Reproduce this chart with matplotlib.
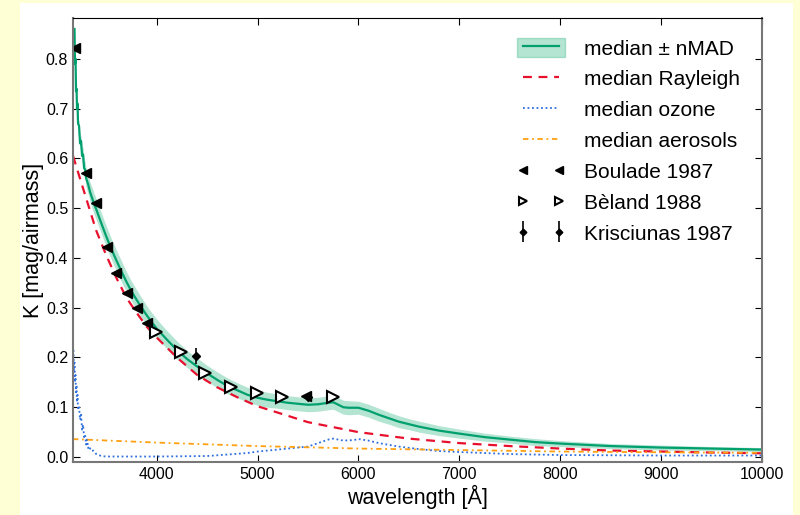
import matplotlib
matplotlib.use("Agg")
import matplotlib.pyplot as plt
from matplotlib.patches import Rectangle

plt.rcParams['font.family'] = ['Liberation Sans', 'DejaVu Sans']

# median extinction curve and its nMAD spread
median_wl = [3185, 3190, 3195, 3200, 3205, 3210, 3215, 3220, 3230, 3240,
             3250, 3260, 3270, 3280, 3290, 3300, 3320, 3340, 3360, 3380,
             3400, 3450, 3500, 3550, 3600, 3650, 3700, 3750, 3800, 3850,
             3900, 3950, 4000, 4100, 4200, 4300, 4400, 4500, 4600, 4700,
             4800, 4900, 5000, 5100, 5200, 5300, 5400, 5500, 5600, 5700,
             5750, 5800, 5850, 5900, 6000, 6100, 6200, 6300, 6400, 6500,
             6600, 6800, 7000, 7250, 7500, 7750, 8000, 8500, 9000, 9500,
             10000]
median_k = [0.860, 0.790, 0.800, 0.735, 0.740, 0.700, 0.710, 0.670, 0.665, 0.630,
            0.635, 0.605, 0.608, 0.580, 0.578, 0.560, 0.548, 0.532, 0.520, 0.508,
            0.498, 0.470, 0.443, 0.418, 0.395, 0.373, 0.352, 0.333, 0.316, 0.300,
            0.285, 0.271, 0.258, 0.236, 0.215, 0.197, 0.182, 0.168, 0.155, 0.143,
            0.134, 0.125, 0.119, 0.115, 0.112, 0.109, 0.107, 0.105, 0.106, 0.109,
            0.110, 0.105, 0.100, 0.099, 0.099, 0.093, 0.085, 0.078, 0.071, 0.066,
            0.061, 0.053, 0.047, 0.040, 0.035, 0.030, 0.027, 0.022, 0.019, 0.017,
            0.015]
median_nmad = [0.004, 0.004, 0.005, 0.005, 0.006, 0.006, 0.007, 0.008, 0.010, 0.011,
               0.012, 0.014, 0.015, 0.016, 0.017, 0.018, 0.019, 0.020, 0.021, 0.021,
               0.021, 0.021, 0.021, 0.021, 0.021, 0.021, 0.020, 0.020, 0.020, 0.020,
               0.019, 0.019, 0.019, 0.018, 0.018, 0.017, 0.017, 0.016, 0.016, 0.016,
               0.015, 0.015, 0.015, 0.015, 0.014, 0.014, 0.014, 0.014, 0.014, 0.014,
               0.014, 0.014, 0.014, 0.014, 0.013, 0.013, 0.013, 0.012, 0.012, 0.011,
               0.011, 0.010, 0.009, 0.008, 0.007, 0.007, 0.006, 0.005, 0.005, 0.004,
               0.004]

rayleigh_wl = [3170, 3300, 3400, 3500, 3600, 3700, 3800, 3900, 4000, 4200,
               4400, 4600, 4800, 5000, 5500, 6000, 6500, 7000, 7500, 8000,
               8500, 9000, 9500, 10000]
rayleigh_k = [0.605, 0.520, 0.455, 0.405, 0.360, 0.320, 0.290, 0.262, 0.240, 0.200,
              0.165, 0.140, 0.120, 0.102, 0.070, 0.050, 0.037, 0.028, 0.022, 0.017,
              0.013, 0.011, 0.009, 0.0075]

ozone_wl = [3175, 3180, 3185, 3190, 3195, 3200, 3205, 3210, 3215, 3220,
            3230, 3240, 3250, 3260, 3270, 3280, 3290, 3300, 3310, 3320,
            3330, 3350, 3370, 3400, 3450, 3500, 4000, 4500, 4700, 4900,
            5000, 5200, 5400, 5500, 5600, 5700, 5750, 5850, 5950, 6000,
            6100, 6200, 6400, 6600, 6800, 7000, 7500, 8000, 9000, 10000]
ozone_k = [0.215, 0.170, 0.190, 0.150, 0.165, 0.130, 0.145, 0.110, 0.125, 0.095,
           0.100, 0.075, 0.085, 0.055, 0.065, 0.040, 0.045, 0.025, 0.035, 0.018,
           0.022, 0.012, 0.013, 0.006, 0.002, 0.001, 0.001, 0.002, 0.005, 0.008,
           0.011, 0.015, 0.019, 0.021, 0.028, 0.035, 0.037, 0.033, 0.034, 0.036,
           0.033, 0.028, 0.021, 0.016, 0.012, 0.010, 0.006, 0.004, 0.003, 0.003]

aerosol_wl = [3170, 4000, 5000, 6000, 7000, 8000, 9000, 10000]
aerosol_k = [0.036, 0.029, 0.022, 0.017, 0.014, 0.011, 0.0095, 0.0085]

# literature values
boulade_wl = [3190, 3300, 3400, 3505, 3600, 3703, 3802, 3901, 5480]
boulade_k = [0.822, 0.571, 0.511, 0.421, 0.370, 0.330, 0.300, 0.270, 0.122]

beland_wl = [3993, 4238, 4478, 4733, 4990, 5238, 5743]
beland_k = [0.251, 0.210, 0.169, 0.141, 0.129, 0.120, 0.120]

kris_wl = [4389, 5500]
kris_k = [0.203, 0.121]
kris_err = [0.016, 0.006]

green = '#00a06e'

fig = plt.figure(figsize=(8, 5.15), dpi=100, facecolor='#ffffd6')
fig.patches.append(Rectangle((20 / 800, 0), 773 / 800, 1 - 3 / 515,
                             transform=fig.transFigure, facecolor='white',
                             edgecolor='none', zorder=-10))
ax = fig.add_axes([73 / 800, 1 - 462 / 515, 689 / 800, 444 / 515])

lo = [m - s for m, s in zip(median_k, median_nmad)]
hi = [m + s for m, s in zip(median_k, median_nmad)]
band = ax.fill_between(median_wl, lo, hi, color='#4dbf94', alpha=0.42, lw=0)
med_line, = ax.plot(median_wl, median_k, color=green, lw=1.6)
ray_line, = ax.plot(rayleigh_wl, rayleigh_k, color='#e8112d', lw=1.6,
                    ls=(0, (4, 3)))
oz_line, = ax.plot(ozone_wl, ozone_k, color='#2f6fe0', lw=1.3,
                   ls=(0, (1, 1.5)))
aer_line, = ax.plot(aerosol_wl, aerosol_k, color='#ffa010', lw=1.3,
                    ls=(0, (3, 2, 1, 2)))

b1, = ax.plot(boulade_wl, boulade_k, ls='none', marker='<', ms=7,
              color='black')
b2, = ax.plot(beland_wl, beland_k, ls='none', marker='>', ms=8, mfc='white',
              mec='black', mew=1.5)
kr = ax.errorbar(kris_wl, kris_k, yerr=kris_err, fmt='D', ms=4.5,
                 color='black', ecolor='black', elinewidth=1.2, capsize=0)

ax.set_xlim(3170, 10000)
ax.set_ylim(-0.01, 0.882)
ax.set_xticks([4000, 5000, 6000, 7000, 8000, 9000, 10000])
ax.set_yticks([0.0, 0.1, 0.2, 0.3, 0.4, 0.5, 0.6, 0.7, 0.8])
ax.tick_params(direction='in', top=True, right=True, length=5,
               labelsize=11.5, colors='black')
ax.spines['top'].set_color('black')
for side in ['left', 'right', 'bottom']:
    ax.spines[side].set_color('#777777')
    ax.spines[side].set_linewidth(1.5)

ax.set_xlabel('wavelength [Å]', fontsize=15.5, labelpad=2)
ax.set_ylabel('K [mag/airmass]', fontsize=15.5, labelpad=1)

# band proxy drawn as a boxed patch like in the original legend
band_proxy = Rectangle((0, 0), 1, 1, facecolor='#4dbf94', alpha=0.42,
                       edgecolor='#4dbf94')
ax.legend([(band_proxy, med_line), ray_line, oz_line, aer_line, b1, b2, kr],
          ['median ± nMAD', 'median Rayleigh', 'median ozone',
           'median aerosols', 'Boulade 1987', 'Bèland 1988', 'Krisciunas 1987'],
          loc='upper right', frameon=False, fontsize=15, numpoints=2,
          markerscale=0.75, handlelength=2.3, handleheight=1.0,
          labelspacing=0.5, handletextpad=0.9,
          bbox_to_anchor=(0.995, 0.997))

fig.savefig('out.png', dpi=100, facecolor=fig.get_facecolor())
